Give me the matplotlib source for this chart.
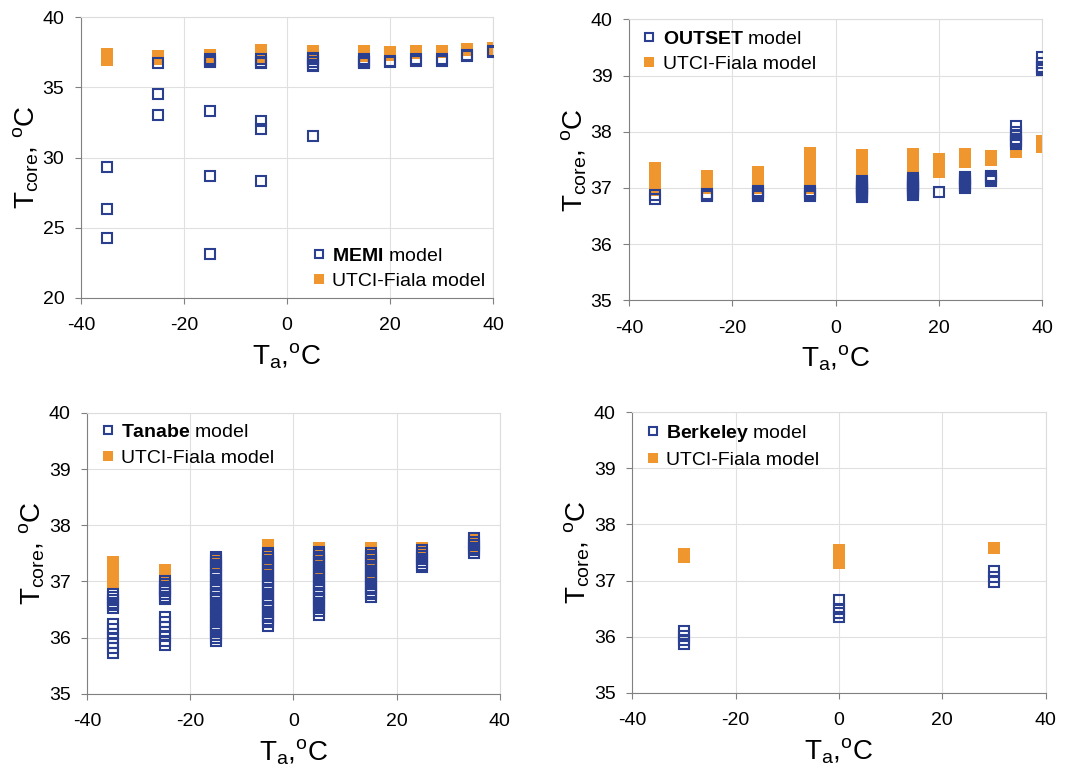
import matplotlib
matplotlib.use("Agg")
from matplotlib import pyplot as plt

plt.rcParams['font.family'] = ['Liberation Sans', 'DejaVu Sans']
plt.rcParams['mathtext.fontset'] = 'custom'
plt.rcParams['mathtext.rm'] = 'Liberation Sans'
plt.rcParams['mathtext.it'] = 'Liberation Sans'
plt.rcParams['mathtext.bf'] = 'Liberation Sans:bold'
plt.rcParams['axes.unicode_minus'] = False

BLUE = "#2b3f91"
ORANGE = "#f0962e"

# ---- data: Ta (x) -> list of Tcore values ----
# UTCI-Fiala, same runs shown in MEMI and OUTSET panels
fiala_x = [-35, -25, -15, -5, 5, 15, 20, 25, 30, 35, 40]
fiala_y = [[36.97, 37.05, 37.12, 37.2, 37.28, 37.36],
           [37.0, 37.07, 37.14, 37.21],
           [37.0, 37.07, 37.14, 37.21, 37.28],
           [37.0, 37.07, 37.14, 37.2, 37.3, 37.37, 37.44, 37.51, 37.58, 37.63],
           [37.12, 37.2, 37.28, 37.36, 37.44, 37.52, 37.59],
           [37.2, 37.28, 37.36, 37.44, 37.52, 37.6],
           [37.28, 37.36, 37.44, 37.52],
           [37.47, 37.54, 37.6],
           [37.5, 37.56],
           [37.64, 37.7],
           [37.72, 37.78, 37.83]]

memi_x = [-35, -25, -15, -5, 5, 15, 20, 25, 30, 35, 40]
memi_y = [[29.3, 26.3, 24.3],
          [36.7, 34.5, 33.0],
          [36.8, 36.9, 37.0, 33.3, 28.7, 23.1],
          [36.7, 36.8, 37.0, 32.6, 32.0, 28.3],
          [36.5, 36.6, 36.8, 37.0, 37.1, 31.5],
          [36.7, 36.8, 36.9, 37.0],
          [36.8, 36.9],
          [36.9, 37.0],
          [36.9, 37.0],
          [37.2, 37.3],
          [37.5, 37.6]]

outset_x = [-35, -25, -15, -5, 5, 15, 20, 25, 30, 35, 40]
outset_y = [[36.8, 36.87],
            [36.85, 36.88, 36.9],
            [36.86, 36.89, 36.92, 36.95],
            [36.86, 36.89, 36.92, 36.95],
            [36.83, 36.86, 36.89, 36.92, 36.95, 36.98, 37.01, 37.04, 37.07, 37.1, 37.13],
            [36.88, 36.91, 36.94, 36.97, 37.0, 37.03, 37.06, 37.09, 37.12, 37.15, 37.18],
            [36.93],
            [37.0, 37.03, 37.06, 37.09, 37.12, 37.16, 37.2],
            [37.13, 37.16, 37.19, 37.22],
            [37.78, 37.81, 37.84, 37.88, 37.94, 38.0, 38.1],
            [39.1, 39.13, 39.16, 39.23, 39.33]]

tanabe_x = [-35, -25, -15, -5, 5, 15, 25, 35]
tanabe_y = [[35.72, 35.81, 35.9, 35.99, 36.07, 36.15, 36.24,
             36.53, 36.58, 36.62, 36.67, 36.72, 36.77],
            [35.86, 35.94, 36.02, 36.1, 36.18, 36.27, 36.36,
             36.68, 36.72, 36.77, 36.82, 36.86, 36.9, 36.95, 37.0],
            [35.93, 36.0, 36.04, 36.1, 36.14, 36.19, 36.23, 36.28, 36.33, 36.38, 36.42,
             36.47, 36.52, 36.56, 36.61, 36.66, 36.7, 36.75, 36.8, 36.84, 36.89, 36.93,
             36.98, 37.03, 37.07, 37.12, 37.16, 37.21, 37.26, 37.3, 37.35, 37.4, 37.44],
            [36.2, 36.27, 36.31, 36.36, 36.4, 36.45, 36.5, 36.55, 36.6, 36.64, 36.69,
             36.73, 36.78, 36.83, 36.87, 36.92, 36.96, 37.01, 37.05, 37.1, 37.15, 37.19,
             37.24, 37.28, 37.33, 37.37, 37.42, 37.47, 37.51],
            [36.4, 36.48, 36.52, 36.57, 36.62, 36.66, 36.71, 36.75, 36.8, 36.85, 36.89,
             36.94, 36.98, 37.03, 37.08, 37.12, 37.17, 37.21, 37.26, 37.31, 37.35, 37.4,
             37.44, 37.49, 37.52],
            [36.72, 36.77, 36.81, 36.86, 36.9, 36.95, 37.0, 37.04, 37.09, 37.13, 37.18,
             37.23, 37.27, 37.32, 37.36, 37.41, 37.46, 37.5],
            [37.25, 37.3, 37.35, 37.4, 37.45, 37.5, 37.55],
            [37.5, 37.55, 37.6, 37.65, 37.7, 37.78]]
fiala3_x = [-35, -25, -15, -5, 5, 15, 25, 35]
fiala3_y = [[36.97, 37.05, 37.12, 37.2, 37.28, 37.35],
            [37.05, 37.12, 37.2],
            [37.02, 37.27, 37.44],
            [37.28, 37.47, 37.6, 37.64],
            [37.18, 37.3, 37.47, 37.6],
            [37.15, 37.32, 37.47, 37.6],
            [37.6],
            [37.6, 37.77]]

berkeley_x = [-30, 0, 30]
berkeley_y = [[35.87, 35.94, 36.02, 36.1],
              [36.35, 36.42, 36.5, 36.65],
              [36.98, 37.06, 37.17]]
fiala4_x = [-30, 0, 30]
fiala4_y = [[37.42, 37.48],
            [37.32, 37.4, 37.48, 37.55],
            [37.58]]


def flatten(xs, ys):
    fx, fy = [], []
    for x, vals in zip(xs, ys):
        for v in vals:
            fx.append(x)
            fy.append(v)
    return fx, fy


def panel(rect, mx, my, fx, fy, name, ylim, yticks, loc):
    ax = fig.add_axes(rect)
    ox, oy = flatten(fx, fy)
    bx, by = flatten(mx, my)
    h2, = ax.plot(ox, oy, 's', ms=8.6, mfc=ORANGE, mec=ORANGE, mew=0,
                  label="UTCI-Fiala model", zorder=2)
    h1, = ax.plot(bx, by, 's', ms=7.4, mfc='none', mec=BLUE, mew=1.5,
                  label=r"$\bf{%s}$ model" % name, zorder=3)
    ax.set_xlim(-40, 40)
    ax.set_ylim(*ylim)
    ax.set_xticks([-40, -20, 0, 20, 40])
    ax.set_yticks(yticks)
    ax.grid(True, color="#e0e0e0", lw=0.8)
    ax.set_axisbelow(True)
    for s in ['left', 'bottom']:
        ax.spines[s].set_color("#808080")
    for s in ['top', 'right']:
        ax.spines[s].set_color("#dcdcdc")
    ax.tick_params(labelsize=14, length=4, color="#808080")
    ax.tick_params(axis='x', pad=10)
    ax.tick_params(axis='y', pad=8)
    ax.set_xlabel(r"T$_{\mathrm{a}}$,$^{\mathrm{o}}$C", fontsize=20, labelpad=5)
    ax.set_ylabel(r"T$_{\mathrm{core}}$, $^{\mathrm{o}}$C", fontsize=20, labelpad=1)
    pad = 0.0 if loc == "lower right" else 0.15
    ax.legend([h1, h2], [h1.get_label(), h2.get_label()], loc=loc, frameon=False,
              fontsize=14, handletextpad=0.2, borderaxespad=pad, labelspacing=0.4,
              handlelength=1.0, markerscale=0.8)
    return ax


fig = plt.figure(figsize=(10.79, 7.76), dpi=100)

panel([0.075, 0.616, 0.382, 0.362], memi_x, memi_y, fiala_x, fiala_y, "MEMI",
      (20, 40), [20, 25, 30, 35, 40], "lower right")
panel([0.583, 0.613, 0.383, 0.362], outset_x, outset_y, fiala_x, fiala_y, "OUTSET",
      (35, 40), [35, 36, 37, 38, 39, 40], "upper left")
panel([0.081, 0.106, 0.382, 0.362], tanabe_x, tanabe_y, fiala3_x, fiala3_y, "Tanabe",
      (35, 40), [35, 36, 37, 38, 39, 40], "upper left")
panel([0.586, 0.107, 0.383, 0.362], berkeley_x, berkeley_y, fiala4_x, fiala4_y, "Berkeley",
      (35, 40), [35, 36, 37, 38, 39, 40], "upper left")

fig.savefig("out.png", dpi=100)
